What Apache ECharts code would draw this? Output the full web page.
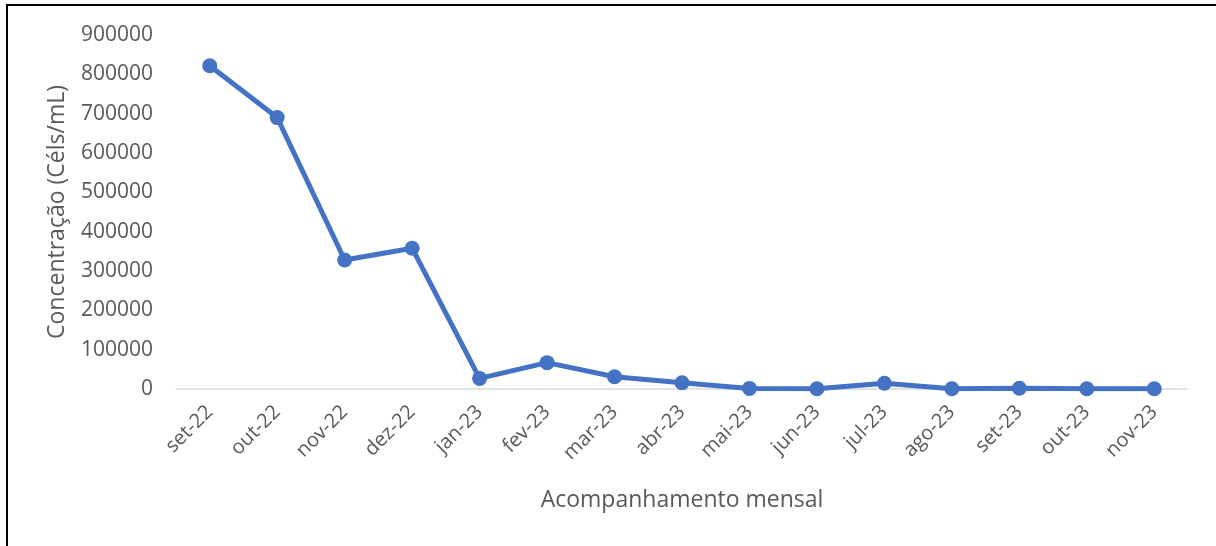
<!DOCTYPE html>
<html>
<head>
<meta charset="utf-8">
<title>Concentração</title>
<script src="https://cdn.jsdelivr.net/npm/echarts@6/dist/echarts.min.js"></script>
<style>
  html, body { margin: 0; padding: 0; background: #fff; }
  #chart { width: 1216px; height: 546px; }
</style>
</head>
<body>
<div id="chart"></div>
<script>
// meses do acompanhamento
const meses = ['set-22', 'out-22', 'nov-22', 'dez-22', 'jan-23', 'fev-23', 'mar-23', 'abr-23',
  'mai-23', 'jun-23', 'jul-23', 'ago-23', 'set-23', 'out-23', 'nov-23']
// concentração (Céls/mL)
const concentracao = [822000, 690000, 328000, 358000, 27000, 67000, 31000, 16000,
  1500, 500, 14500, 500, 1800, 500, 500]
const yTicks = { min: 0, max: 900000, step: 100000 }

const chart = echarts.init(document.getElementById('chart'))
const fonte = '"Open Sans", sans-serif'

const option = {
  animation: false,
  graphic: [{
    type: 'rect',
    shape: { x: 7, y: 5, width: 1400, height: 700 },
    style: { fill: 'none', stroke: '#000', lineWidth: 2 }
  }],
  grid: { left: 176, right: 28, top: 35, bottom: 157 },
  xAxis: {
    type: 'category',
    data: meses,
    name: 'Acompanhamento mensal',
    nameLocation: 'middle',
    nameGap: 100,
    nameTextStyle: { fontFamily: fonte, fontSize: 23, color: '#595959' },
    axisLine: { lineStyle: { color: '#d9d9d9', width: 1.5 } },
    axisTick: { show: false },
    axisLabel: { rotate: 45, margin: 20, fontFamily: fonte, fontSize: 20, color: '#595959' }
  },
  yAxis: {
    type: 'value',
    min: yTicks.min,
    max: yTicks.max,
    interval: yTicks.step,
    name: 'Concentração (Céls/mL)',
    nameLocation: 'middle',
    nameGap: 107,
    nameTextStyle: { fontFamily: fonte, fontSize: 23, color: '#595959' },
    axisLine: { show: false },
    axisTick: { show: false },
    splitLine: { show: false },
    axisLabel: {
      margin: 23, fontFamily: fonte, fontSize: 21, color: '#595959',
      formatter: v => String(v)
    }
  },
  series: [{
    type: 'line',
    data: concentracao,
    symbol: 'circle',
    symbolSize: 15,
    lineStyle: { color: '#4472c4', width: 5 },
    itemStyle: { color: '#4472c4' }
  }]
}
chart.setOption(option)
</script>
</body>
</html>
